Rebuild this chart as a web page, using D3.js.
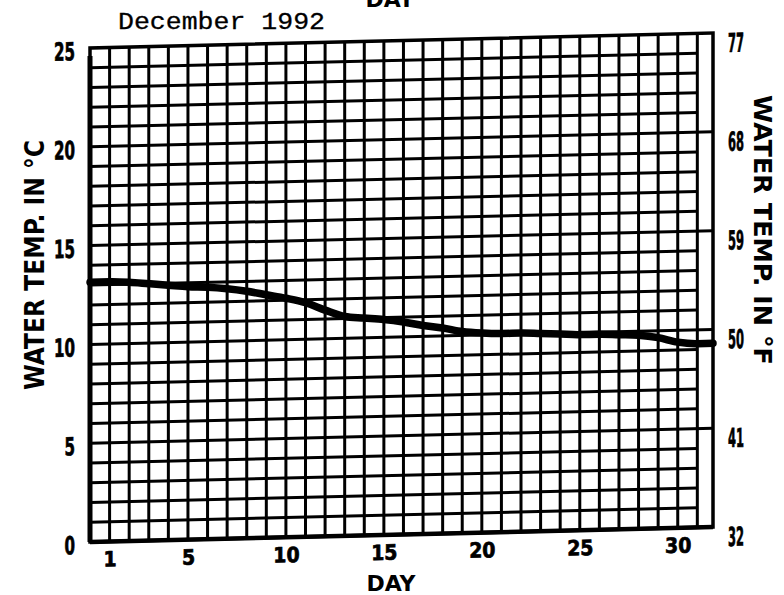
<!DOCTYPE html>
<html>
<head>
<meta charset="utf-8">
<script src="https://cdn.jsdelivr.net/npm/d3@7"></script>
<style>
body { margin: 0; background: #fff; }
svg { display: block; }
.tick text { fill: #000; stroke: #000; stroke-width: 0.7px; font-family: "Liberation Sans Narrow", "DejaVu Sans Condensed", "Arial Narrow", sans-serif; font-weight: bold; }
.grid line { stroke: #000; stroke-width: 3px; }
.ttl { font-family: "DejaVu Sans", sans-serif; font-weight: bold; fill: #000; }
</style>
</head>
<body>
<script>
// daily water temperature, December 1992
var days  = [0, 1, 2, 3, 4, 5, 6, 7, 8, 9, 10, 11, 12, 13, 14, 15, 16,
             17, 18, 19, 20, 21, 22, 23, 24, 25, 26, 27, 28, 29, 30, 31, 31.8];
var temps = [13.15, 13.15, 13.1, 13.0, 12.9, 12.8, 12.75, 12.65, 12.5, 12.3, 12.1,
             11.85, 11.45, 11.1, 11.0, 10.9, 10.75, 10.55, 10.4, 10.2, 10.1, 10.05,
             10.05, 10.0, 9.95, 9.9, 9.9, 9.85, 9.8, 9.65, 9.4, 9.3, 9.3];
var dayTicks = [1, 5, 10, 15, 20, 25, 30];
var cTicks = [0, 5, 10, 15, 20, 25];
var fTicks = [32, 41, 50, 59, 68, 77];

var width = 784, height = 595;
// (window.top is taken, so plot edges get their own names)
var pL = 90, pR = 713, pT = 48, pB = 542;
var skew = 0.024; // the scanned page is a little tilted

var x = d3.scaleLinear().domain([0, 31.8]).range([pL, pR]);
var y = d3.scaleLinear().domain([0, 25]).range([pB, pT]);
var yF = d3.scaleLinear().domain([32, 77]).range([pB, pT]);

var svg = d3.select("body").append("svg")
    .attr("width", width)
    .attr("height", height);

var g = svg.append("g")
    .attr("transform", "matrix(1," + (-skew) + ",0,1,0," + (skew * pL) + ")");

// grid: every day, every degree; the 5 degree lines run to the border
var grid = g.append("g").attr("class", "grid");
grid.selectAll(".v")
    .data(d3.range(1, 32))
  .enter().append("line")
    .attr("x1", d => x(d)).attr("x2", d => x(d))
    .attr("y1", pT).attr("y2", pB);
grid.selectAll(".h")
    .data(d3.range(1, 25))
  .enter().append("line")
    .attr("x1", pL)
    .attr("x2", d => d % 5 == 0 ? pR : x(31))
    .attr("y1", d => y(d)).attr("y2", d => y(d));

// frame
g.append("rect")
    .attr("x", pL).attr("y", pT)
    .attr("width", pR - pL).attr("height", pB - pT)
    .attr("fill", "none").attr("stroke", "#000").attr("stroke-width", 3.5);
g.append("line")
    .attr("x1", pL).attr("x2", pL).attr("y1", pT + 8).attr("y2", pB)
    .attr("stroke", "#000").attr("stroke-width", 5);
g.append("line")
    .attr("x1", pL).attr("x2", pR).attr("y1", pB).attr("y2", pB)
    .attr("stroke", "#000").attr("stroke-width", 4.5);

// temperature curve
var line = d3.line()
    .x((d, i) => x(days[i]))
    .y(d => y(d))
    .curve(d3.curveMonotoneX);
g.append("path")
    .datum(temps)
    .attr("d", line)
    .attr("fill", "none")
    .attr("stroke", "#000")
    .attr("stroke-width", 7.5)
    .attr("stroke-linecap", "round");

// axes (labels only)
var ax = g.append("g")
    .attr("transform", "translate(0," + pB + ")")
    .call(d3.axisBottom(x).tickValues(dayTicks).tickSize(0).tickPadding(10));
ax.select(".domain").remove();
ax.selectAll("text").style("font-size", "21px");

var ay = g.append("g")
    .attr("transform", "translate(" + pL + ",0)")
    .call(d3.axisLeft(y).tickValues(cTicks).tickSize(0).tickPadding(15));
ay.select(".domain").remove();
ay.selectAll("text")
    .style("font-size", "25px")
    .attr("dy", "0.45em")
    .attr("textLength", d => String(d).length * 10.5)
    .attr("lengthAdjust", "spacingAndGlyphs");

var ayF = g.append("g")
    .attr("transform", "translate(" + pR + ",0)")
    .call(d3.axisRight(yF).tickValues(fTicks).tickSize(0).tickPadding(15));
ayF.select(".domain").remove();
ayF.selectAll("text")
    .style("font-size", "26px")
    .attr("dy", "0.72em")
    .attr("textLength", 16)
    .attr("lengthAdjust", "spacingAndGlyphs");

// titles
svg.append("text")
    .attr("x", 118).attr("y", 29)
    .attr("textLength", 207).attr("lengthAdjust", "spacingAndGlyphs")
    .style("font-family", "'Liberation Mono', 'DejaVu Sans Mono', monospace")
    .style("font-size", "24px")
    .style("stroke", "#000").style("stroke-width", 0.3)
    .text("December 1992");

svg.append("text").attr("class", "ttl")
    .attr("x", 390).attr("y", 7)
    .attr("text-anchor", "middle")
    .style("font-size", "22px")
    .text("DAY");

svg.append("text").attr("class", "ttl")
    .attr("x", 391).attr("y", 591)
    .attr("text-anchor", "middle")
    .style("font-size", "22px")
    .text("DAY");

svg.append("text").attr("class", "ttl")
    .attr("transform", "translate(44,265) rotate(-90)")
    .attr("text-anchor", "middle")
    .attr("textLength", 250).attr("lengthAdjust", "spacingAndGlyphs")
    .style("font-size", "26px")
    .text("WATER TEMP. IN °C");

svg.append("text").attr("class", "ttl")
    .attr("transform", "translate(754,230) rotate(90)")
    .attr("text-anchor", "middle")
    .attr("textLength", 270).attr("lengthAdjust", "spacingAndGlyphs")
    .style("font-size", "25px")
    .text("WATER TEMP. IN °F");
</script>
</body>
</html>
